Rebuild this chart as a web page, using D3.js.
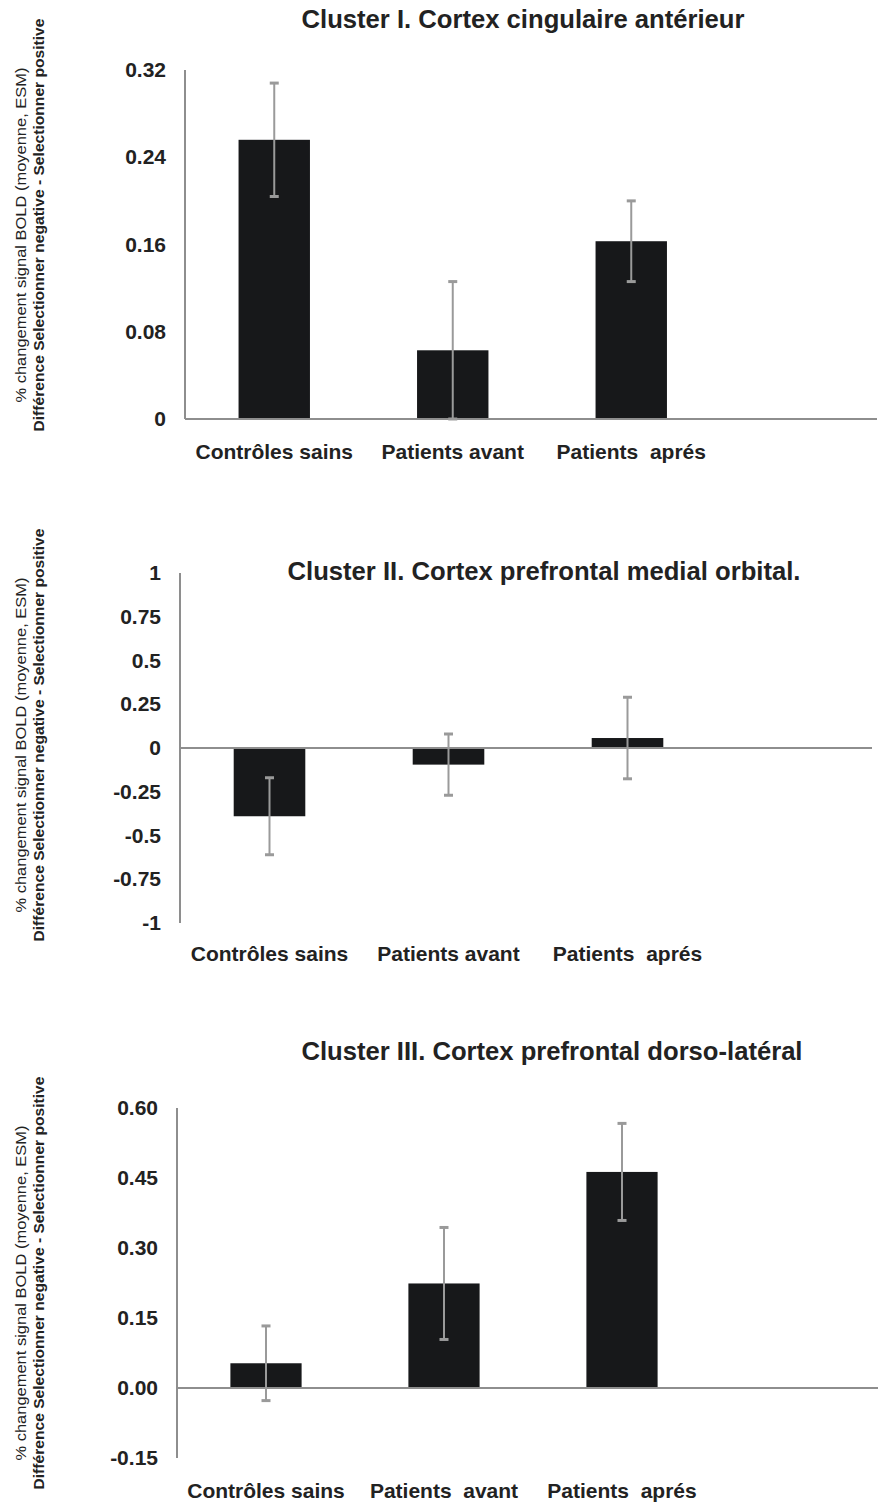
<!DOCTYPE html>
<html>
<head>
<meta charset="utf-8">
<script src="https://cdn.jsdelivr.net/npm/d3@7/dist/d3.min.js"></script>
<style>
  body { margin: 0; background: #fff; }
  svg text { font-family: "Liberation Sans", Arial, sans-serif; fill: #222; white-space: pre; }
</style>
</head>
<body>
<svg id="chart" width="878" height="1505"></svg>
<script>
// Donnees (3 clusters)
const categories1 = ["Contrôles sains", "Patients avant", "Patients  aprés"];
const categories2 = ["Contrôles sains", "Patients avant", "Patients  aprés"];
const categories3 = ["Contrôles sains", "Patients  avant", "Patients  aprés"];

const titles = [
    "Cluster I. Cortex cingulaire antérieur",
    "Cluster II. Cortex prefrontal medial orbital.",
    "Cluster III. Cortex prefrontal dorso-latéral"
];

const values1 = [0.256, 0.063, 0.163];
const errors1 = [0.052, 0.063, 0.037];
const values2 = [-0.39, -0.095, 0.057];
const errors2 = [0.22, 0.175, 0.233];
const values3 = [0.053, 0.224, 0.463];
const errors3 = [0.08, 0.12, 0.104];

const ticks1 = [0, 0.08, 0.16, 0.24, 0.32];
const tickLabels1 = ["0", "0.08", "0.16", "0.24", "0.32"];
const ticks2 = [-1, -0.75, -0.5, -0.25, 0, 0.25, 0.5, 0.75, 1];
const tickLabels2 = ["-1", "-0.75", "-0.5", "-0.25", "0", "0.25", "0.5", "0.75", "1"];
const ticks3 = [-0.15, 0, 0.15, 0.30, 0.45, 0.60];
const tickLabels3 = ["-0.15", "0.00", "0.15", "0.30", "0.45", "0.60"];

const yLabelLine1 = "% changement signal BOLD (moyenne, ESM)";
const yLabelLine2 = "Différence Selectionner negative - Selectionner positive";

const svg = d3.select("#chart");

const panels = [
    { cats: categories1, values: values1, errors: errors1, ticks: ticks1, labels: tickLabels1,
      title: titles[0], titleX: 523, titleY: 28, titleW: 443,
      axisX: 185, domain: [0, 0.32], range: [419, 70], step: 178.5, zeroEnd: 877,
      catY: 459, yLabelY: 225 },
    { cats: categories2, values: values2, errors: errors2, ticks: ticks2, labels: tickLabels2,
      title: titles[1], titleX: 544, titleY: 580, titleW: 513,
      axisX: 180, domain: [-1, 1], range: [923, 573], step: 179, zeroEnd: 872,
      catY: 961, yLabelY: 735 },
    { cats: categories3, values: values3, errors: errors3, ticks: ticks3, labels: tickLabels3,
      title: titles[2], titleX: 552, titleY: 1060, titleW: 501,
      axisX: 177, domain: [-0.15, 0.60], range: [1458, 1108], step: 178, zeroEnd: 878,
      catY: 1498, yLabelY: 1283 }
];

panels.forEach(function(p) {
    const g = svg.append("g");

    const y = d3.scaleLinear().domain(p.domain).range(p.range);
    const x = d3.scaleBand()
        .domain(p.cats)
        .range([p.axisX, p.axisX + p.cats.length * p.step])
        .paddingInner(0.6)
        .paddingOuter(0.3);

    const rows = p.cats.map(function(c, i) {
        return { cat: c, value: p.values[i], err: p.errors[i] };
    });

    // Titre
    g.append("text")
        .attr("x", p.titleX)
        .attr("y", p.titleY)
        .attr("text-anchor", "middle")
        .attr("font-size", 25)
        .attr("font-weight", "bold")
        .attr("textLength", p.titleW)
        .attr("lengthAdjust", "spacingAndGlyphs")
        .text(p.title);

    // Axe vertical (labels seulement, pas de graduations)
    const axis = g.append("g")
        .attr("transform", "translate(" + p.axisX + ",0)")
        .call(d3.axisLeft(y)
            .tickValues(p.ticks)
            .tickFormat(function(d, i) { return p.labels[i]; })
            .tickSize(0)
            .tickPadding(19));
    axis.select(".domain").remove();
    axis.attr("font-family", null).attr("font-size", null);
    axis.selectAll("text")
        .attr("font-size", 21)
        .attr("font-weight", "bold")
        .attr("fill", "#222");

    // Barres
    g.selectAll(".bar")
        .data(rows)
        .enter()
        .append("rect")
        .attr("class", "bar")
        .attr("x", function(d) { return x(d.cat); })
        .attr("width", x.bandwidth())
        .attr("y", function(d) { return y(Math.max(0, d.value)); })
        .attr("height", function(d) { return Math.abs(y(d.value) - y(0)); })
        .attr("fill", "#17181a");

    // Lignes d'axe
    g.append("line")
        .attr("x1", p.axisX).attr("x2", p.axisX)
        .attr("y1", p.range[1]).attr("y2", p.range[0])
        .attr("stroke", "#8e8e8e").attr("stroke-width", 2);
    g.append("line")
        .attr("x1", p.axisX).attr("x2", p.zeroEnd)
        .attr("y1", y(0)).attr("y2", y(0))
        .attr("stroke", "#8e8e8e").attr("stroke-width", 2);

    // Barres d'erreur (ESM)
    const errG = g.selectAll(".err")
        .data(rows)
        .enter()
        .append("g")
        .attr("class", "err")
        .attr("stroke", "#9a9a9a")
        .attr("stroke-width", 2);
    errG.append("line")
        .attr("x1", function(d) { return x(d.cat) + x.bandwidth() / 2; })
        .attr("x2", function(d) { return x(d.cat) + x.bandwidth() / 2; })
        .attr("y1", function(d) { return y(d.value + d.err); })
        .attr("y2", function(d) { return y(d.value - d.err); });
    [1, -1].forEach(function(sign) {
        errG.append("line")
            .attr("x1", function(d) { return x(d.cat) + x.bandwidth() / 2 - 4.5; })
            .attr("x2", function(d) { return x(d.cat) + x.bandwidth() / 2 + 4.5; })
            .attr("y1", function(d) { return y(d.value + sign * d.err); })
            .attr("y2", function(d) { return y(d.value + sign * d.err); })
            .attr("stroke-width", 3);
    });

    // Categories
    g.selectAll(".cat")
        .data(rows)
        .enter()
        .append("text")
        .attr("class", "cat")
        .attr("x", function(d) { return x(d.cat) + x.bandwidth() / 2; })
        .attr("y", p.catY)
        .attr("text-anchor", "middle")
        .attr("font-size", 21)
        .attr("font-weight", "bold")
        .text(function(d) { return d.cat; });

    // Titre de l'axe Y sur deux lignes
    g.append("text")
        .attr("transform", "translate(26," + (p.yLabelY + 10) + ") rotate(-90)")
        .attr("text-anchor", "middle")
        .attr("font-size", 15)
        .attr("textLength", 335)
        .attr("lengthAdjust", "spacingAndGlyphs")
        .text(yLabelLine1);
    g.append("text")
        .attr("transform", "translate(44," + p.yLabelY + ") rotate(-90)")
        .attr("text-anchor", "middle")
        .attr("font-size", 15.5)
        .attr("font-weight", "bold")
        .attr("textLength", 413)
        .attr("lengthAdjust", "spacingAndGlyphs")
        .text(yLabelLine2);
});
</script>
</body>
</html>
